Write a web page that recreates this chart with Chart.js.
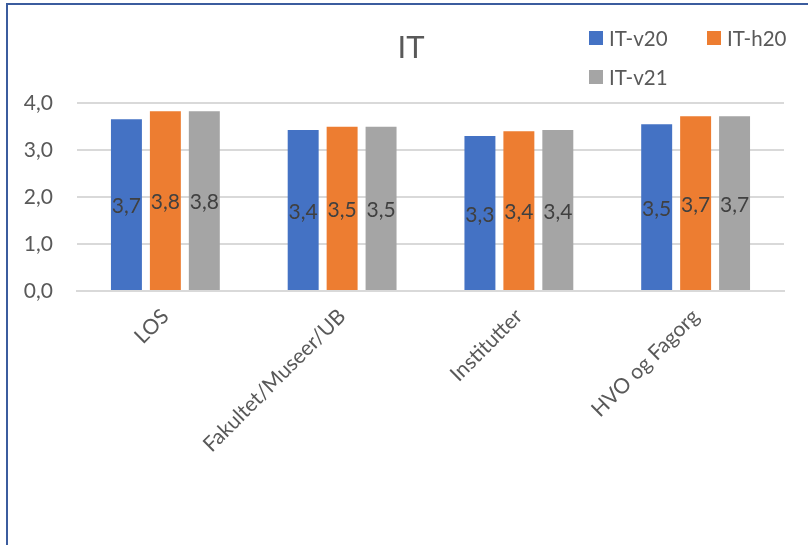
<!DOCTYPE html>
<html>
<head>
<meta charset="utf-8">
<title>IT</title>
<script src="https://cdn.jsdelivr.net/npm/chart.js@4.4.1/dist/chart.umd.min.js"></script>
<style>
  html, body { margin: 0; padding: 0; background: #fff; overflow: hidden; }
  #wrap { position: relative; width: 808px; height: 545px; }
  #frame {
    position: absolute; left: 6px; top: 3px; right: -20px; bottom: -20px;
    border-left: 2px solid #3b5c9e; border-top: 2px solid #3b5c9e;
    pointer-events: none;
  }
  canvas { position: absolute; left: 0; top: 0; }
</style>
</head>
<body>
<div id="wrap">
  <canvas id="itChart" width="808" height="545"></canvas>
  <div id="frame"></div>
</div>
<script>
/* ── Data ─────────────────────────────────────────────────────── */
var categories = ['LOS', 'Fakultet/Museer/UB', 'Institutter', 'HVO og Fagorg'];
var seriesNames = ['IT-v20', 'IT-h20', 'IT-v21'];
var itV20 = [3.66, 3.43, 3.30, 3.55];
var itH20 = [3.83, 3.50, 3.40, 3.72];
var itV21 = [3.83, 3.50, 3.43, 3.72];
var yTicks = [0, 1, 2, 3, 4];

var seriesColors = ['#4472C4', '#ED7D31', '#A5A5A5'];
var FONT = 'Lato, "Open Sans", sans-serif';
var TEXT = '#595959';

function fmt(v) { return v.toFixed(1).replace('.', ','); }

/* ── Value labels centred inside each bar ─────────────────────── */
var barLabels = {
  id: 'barLabels',
  afterDatasetsDraw: function(chart) {
    var ctx = chart.ctx;
    ctx.save();
    ctx.font = '21px ' + FONT;
    ctx.fillStyle = '#404040';
    ctx.textAlign = 'center';
    ctx.textBaseline = 'middle';
    chart.data.datasets.forEach(function(ds, i) {
      chart.getDatasetMeta(i).data.forEach(function(bar, j) {
        ctx.fillText(fmt(ds.data[j]), bar.x, (bar.y + bar.base) / 2 + 2);
      });
    });
    ctx.restore();
  }
};

/* ── Legend: two columns, wraps onto a second row ─────────────── */
var gridLegend = {
  id: 'gridLegend',
  afterDraw: function(chart) {
    var ctx = chart.ctx;
    var x0 = 589, y0 = 38, colW = 118, rowH = 39, box = 14;
    ctx.save();
    ctx.font = '20.5px ' + FONT;
    ctx.textBaseline = 'middle';
    ctx.textAlign = 'left';
    chart.data.datasets.forEach(function(ds, i) {
      var x = x0 + (i % 2) * colW;
      var y = y0 + Math.floor(i / 2) * rowH;
      ctx.fillStyle = ds.backgroundColor;
      ctx.fillRect(x, y - box / 2, box, box);
      ctx.fillStyle = TEXT;
      ctx.fillText(ds.label, x + box + 6, y + 1);
    });
    ctx.restore();
  }
};

var seriesData = [itV20, itH20, itV21];

new Chart(document.getElementById('itChart'), {
  type: 'bar',
  data: {
    labels: categories,
    datasets: seriesNames.map(function(name, i) {
      return {
        label: name,
        data: seriesData[i],
        backgroundColor: seriesColors[i],
        categoryPercentage: 0.661,
        barPercentage: 0.795
      };
    })
  },
  options: {
    responsive: false,
    animation: false,
    layout: { padding: { left: 14, right: 0, top: 0, bottom: 0 } },
    plugins: {
      legend: { display: false },
      tooltip: { enabled: false },
      title: {
        display: true,
        text: 'IT',
        color: TEXT,
        font: { family: FONT, size: 31, weight: 'normal' },
        padding: { top: 29, bottom: 37 }
      }
    },
    scales: {
      x: {
        grid: { display: false, drawTicks: false },
        border: { color: '#D9D9D9', width: 2 },
        ticks: {
          color: TEXT,
          font: { family: FONT, size: 21 },
          maxRotation: 45, minRotation: 45,
          padding: 13
        },
        afterFit: function(scale) { scale.height = 254; }
      },
      y: {
        min: 0, max: 4,
        afterBuildTicks: function(scale) {
          scale.ticks = yTicks.map(function(v) { return { value: v }; });
        },
        grid: { color: '#D9D9D9', lineWidth: 2, drawTicks: false },
        border: { display: false },
        ticks: {
          color: TEXT,
          font: { family: FONT, size: 21 },
          padding: 24,
          callback: function(v) { return fmt(v); }
        },
        afterFit: function(scale) { scale.width = 63; }
      },
      // empty strip on the right so the plot stops short of the edge
      gutter: {
        position: 'right',
        display: true,
        grid: { display: false, drawTicks: false },
        border: { display: false },
        ticks: { display: false },
        afterFit: function(scale) { scale.width = 24; }
      }
    }
  },
  plugins: [barLabels, gridLegend]
});
</script>
</body>
</html>
